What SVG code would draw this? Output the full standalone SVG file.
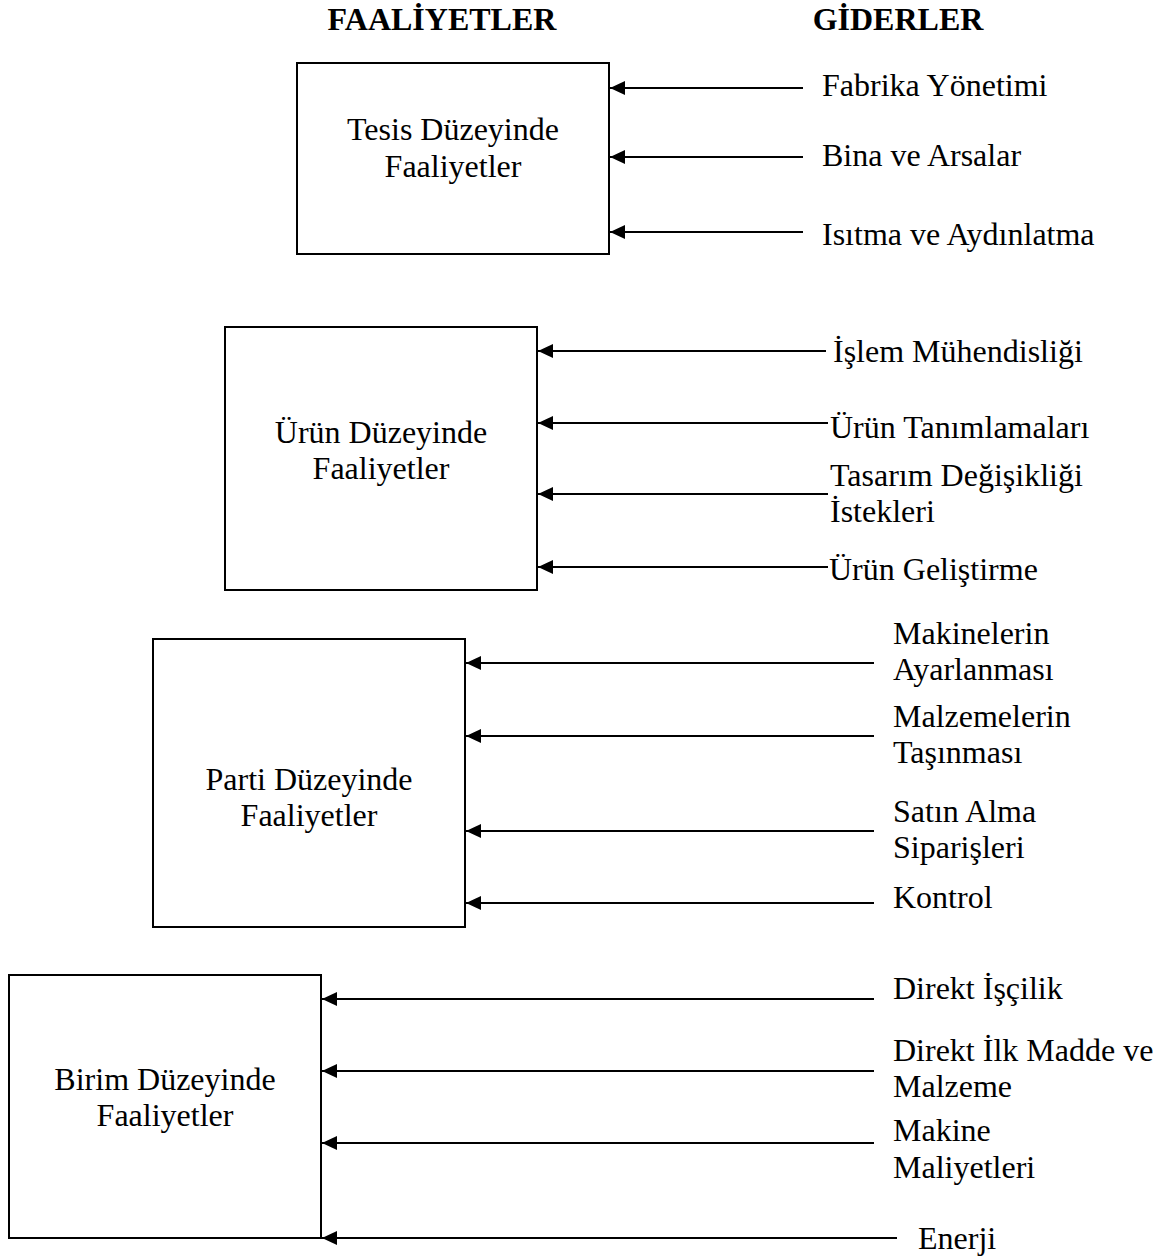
<svg xmlns="http://www.w3.org/2000/svg" width="1170" height="1257" viewBox="0 0 1170 1257">
  <style>
    .box { fill: #ffffff; stroke: #000000; stroke-width: 2; }
    .head { font-family: "Liberation Serif", "Times New Roman", serif; font-size: 32px; font-weight: bold; fill: #000; }
    .lbl { font-family: "Liberation Serif", "Times New Roman", serif; font-size: 32px; fill: #000; }
    .mid { text-anchor: middle; }
    .arrow { stroke: #000000; stroke-width: 1.8; fill: none; marker-end: url(#head); }
  </style>
  <defs>
    <marker id="head" markerUnits="userSpaceOnUse" markerWidth="16" markerHeight="16" refX="15" refY="7" orient="auto">
      <path d="M0,0 L15,7 L0,14 Z" fill="#000000"/>
    </marker>
  </defs>
  <rect width="1170" height="1257" fill="#ffffff"/>

  <!-- column headings -->
  <g id="headings">
    <text class="head mid" x="442" y="30">FAALİYETLER</text>
    <text class="head mid" x="898" y="30">GİDERLER</text>
  </g>

  <!-- activity boxes -->
  <g id="tesis">
    <rect class="box" x="297" y="63" width="312" height="191"/>
    <text class="lbl mid" x="453" y="140">Tesis Düzeyinde</text>
    <text class="lbl mid" x="453" y="177">Faaliyetler</text>
  </g>
  <g id="urun">
    <rect class="box" x="225" y="327" width="312" height="263"/>
    <text class="lbl mid" x="381" y="443">Ürün Düzeyinde</text>
    <text class="lbl mid" x="381" y="479">Faaliyetler</text>
  </g>
  <g id="parti">
    <rect class="box" x="153" y="639" width="312" height="288"/>
    <text class="lbl mid" x="309" y="790">Parti Düzeyinde</text>
    <text class="lbl mid" x="309" y="826">Faaliyetler</text>
  </g>
  <g id="birim">
    <rect class="box" x="9" y="975" width="312" height="263"/>
    <text class="lbl mid" x="165" y="1090">Birim Düzeyinde</text>
    <text class="lbl mid" x="165" y="1126">Faaliyetler</text>
  </g>

  <!-- cost labels -->
  <g id="giderler-tesis">
    <text class="lbl" x="822" y="96">Fabrika Yönetimi</text>
    <text class="lbl" x="822" y="166">Bina ve Arsalar</text>
    <text class="lbl" x="822" y="245">Isıtma ve Aydınlatma</text>
  </g>
  <g id="giderler-urun">
    <text class="lbl" x="833" y="362">İşlem Mühendisliği</text>
    <text class="lbl" x="830" y="438">Ürün Tanımlamaları</text>
    <text class="lbl" x="830" y="486">Tasarım Değişikliği</text>
    <text class="lbl" x="830" y="522">İstekleri</text>
    <text class="lbl" x="829" y="580">Ürün Geliştirme</text>
  </g>
  <g id="giderler-parti">
    <text class="lbl" x="893" y="644">Makinelerin</text>
    <text class="lbl" x="893" y="680">Ayarlanması</text>
    <text class="lbl" x="893" y="727">Malzemelerin</text>
    <text class="lbl" x="893" y="763">Taşınması</text>
    <text class="lbl" x="893" y="822">Satın Alma</text>
    <text class="lbl" x="893" y="858">Siparişleri</text>
    <text class="lbl" x="893" y="908">Kontrol</text>
  </g>
  <g id="giderler-birim">
    <text class="lbl" x="893" y="999">Direkt İşçilik</text>
    <text class="lbl" x="893" y="1061">Direkt İlk Madde ve</text>
    <text class="lbl" x="893" y="1097">Malzeme</text>
    <text class="lbl" x="893" y="1141">Makine</text>
    <text class="lbl" x="893" y="1178">Maliyetleri</text>
    <text class="lbl" x="918" y="1249">Enerji</text>
  </g>

  <!-- connectors: each cost feeds its activity level -->
  <g id="connectors">
    <line class="arrow" x1="803" y1="88" x2="610" y2="88"/>
    <line class="arrow" x1="803" y1="157" x2="610" y2="157"/>
    <line class="arrow" x1="803" y1="232" x2="610" y2="232"/>

    <line class="arrow" x1="826" y1="351" x2="538" y2="351"/>
    <line class="arrow" x1="828" y1="423" x2="538" y2="423"/>
    <line class="arrow" x1="828" y1="494" x2="538" y2="494"/>
    <line class="arrow" x1="828" y1="567" x2="538" y2="567"/>

    <line class="arrow" x1="874" y1="663" x2="466" y2="663"/>
    <line class="arrow" x1="874" y1="736" x2="466" y2="736"/>
    <line class="arrow" x1="874" y1="831" x2="466" y2="831"/>
    <line class="arrow" x1="874" y1="903" x2="466" y2="903"/>

    <line class="arrow" x1="874" y1="999" x2="322" y2="999"/>
    <line class="arrow" x1="874" y1="1071" x2="322" y2="1071"/>
    <line class="arrow" x1="874" y1="1143" x2="322" y2="1143"/>
    <line class="arrow" x1="897" y1="1238" x2="322" y2="1238"/>
  </g>
</svg>
